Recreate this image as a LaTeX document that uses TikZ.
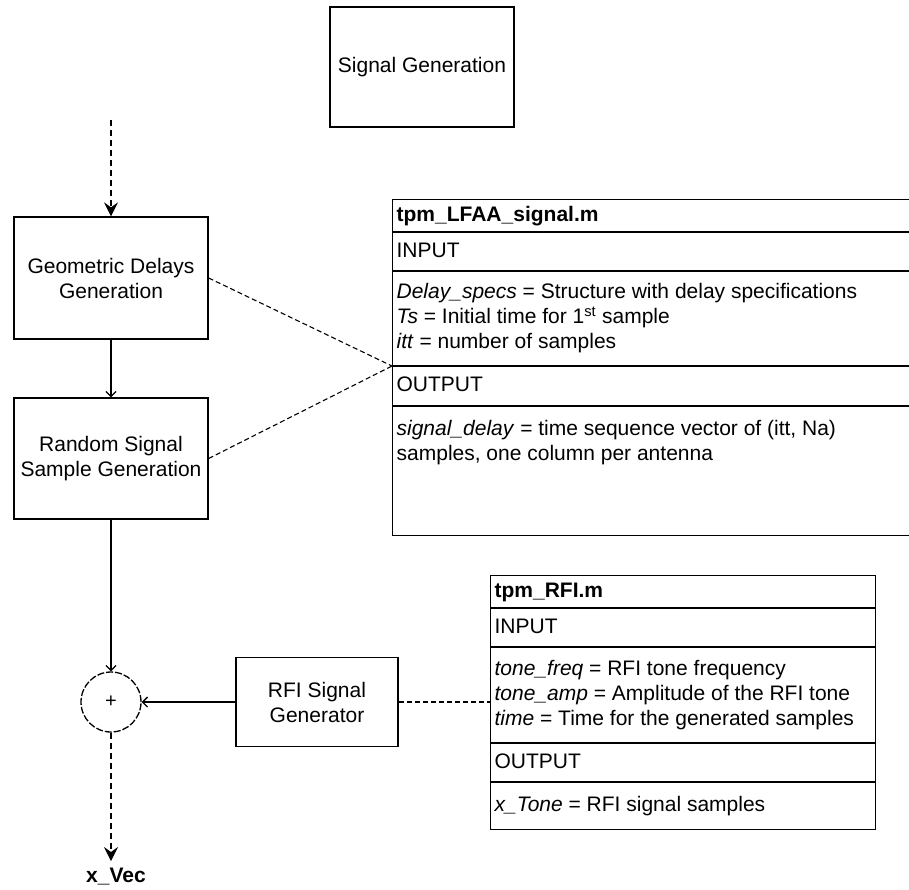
\documentclass[tikz,border=0pt]{standalone}
\usepackage{fontspec}
\setmainfont{Liberation Sans}
\usetikzlibrary{arrows.meta}
\newcommand{\fsz}{\fontsize{21pt}{25pt}\selectfont}
\begin{document}
\begin{tikzpicture}[x=1pt,y=-1pt,line width=1.3pt,
  box/.style={draw,rectangle,inner sep=0pt,align=center,font=\fsz},
  tbl/.style={draw,rectangle,inner sep=0pt,anchor=north west},
  txt/.style={anchor=west,inner sep=0pt,align=left,font=\fsz,text height=15pt,text depth=4pt},
  txtm/.style={anchor=west,inner sep=0pt,align=left,font=\fsz},
  dasharrow/.style={dash pattern=on 6pt off 4pt,-{Stealth[length=14pt,width=14pt,inset=5pt]}},
  solidarrow/.style={-{Straight Barb[length=5pt,width=10pt]}},
  dashline/.style={dash pattern=on 5pt off 3pt,line width=1.1pt}]
\useasboundingbox (0,0) rectangle (909,889);

% left column
\node[box,minimum width=184pt,minimum height=120pt] (sg) at (422,67) {Signal Generation};
\node[box,minimum width=194pt,minimum height=122pt] (geo) at (111,278) {Geometric Delays\\Generation};
\node[box,minimum width=194pt,minimum height=121pt] (rnd) at (111,458.5) {Random Signal\\Sample Generation};
\node[box,minimum width=162pt,minimum height=89pt] (rfi) at (317,702) {RFI Signal\\Generator};
\node[draw,circle,dash pattern=on 7pt off 2pt,minimum size=60pt,inner sep=0pt,font=\fontsize{20pt}{22pt}\selectfont] (sum) at (111,702) {+};
\node[inner sep=0pt,font=\fsz\bfseries] (xvec) at (116,877) {x\_Vec};

\coordinate (src) at (111,120);
\coordinate (xend) at (111,861);
\draw[dasharrow] (src) -- (geo.north);
\draw[solidarrow] (geo.south) -- (rnd.north);
\draw[solidarrow] (rnd.south) -- (sum.north);
\draw[solidarrow] (rfi.west) -- (sum.east);
\draw[dasharrow] (sum.south) -- (xend);

% table 1
\node[tbl,minimum width=530pt,minimum height=336pt] (t1) at (392,199) {};
\draw (392,232) -- (922,232);
\draw (392,271) -- (922,271);
\draw (392,366) -- (922,366);
\draw (392,406) -- (922,406);
\coordinate (t1in) at (392,366);
\draw[dashline] (geo.east) -- (t1in);
\draw[dashline] (rnd.east) -- (t1in);
\node[txt] (t1n) at (396,215.5) {\textbf{tpm\_LFAA\_signal.m}};
\node[txt] (t1i) at (396,251.5) {INPUT};
\node[txtm] (t1a) at (396,318.5) {\textit{Delay\_specs} = Structure with delay specifications\\\textit{Ts} = Initial time for 1\textsuperscript{st} sample\\\textit{itt} = number of samples};
\node[txt] (t1o) at (396,386) {OUTPUT};
\node[txtm] (t1b) at (396,443) {\textit{signal\_delay} = time sequence vector of (itt, Na)\\samples, one column per antenna};

% table 2
\node[tbl,minimum width=385pt,minimum height=254pt] (t2) at (490,575) {};
\draw (490,608) -- (875,608);
\draw (490,647) -- (875,647);
\draw (490,743) -- (875,743);
\draw (490,782) -- (875,782);
\coordinate (t2in) at (490,702);
\draw[dashline] (rfi.east) -- (t2in);
\node[txt] (t2n) at (494,591.5) {\textbf{tpm\_RFI.m}};
\node[txt] (t2i) at (494,627.5) {INPUT};
\node[txtm] (t2a) at (494,695) {\textit{tone\_freq} = RFI tone frequency\\\textit{tone\_amp} = Amplitude of the RFI tone\\\textit{time} = Time for the generated samples};
\node[txt] (t2o) at (494,762.5) {OUTPUT};
\node[txt] (t2b) at (494,805.5) {\textit{x\_Tone} = RFI signal samples};
\end{tikzpicture}
\end{document}
